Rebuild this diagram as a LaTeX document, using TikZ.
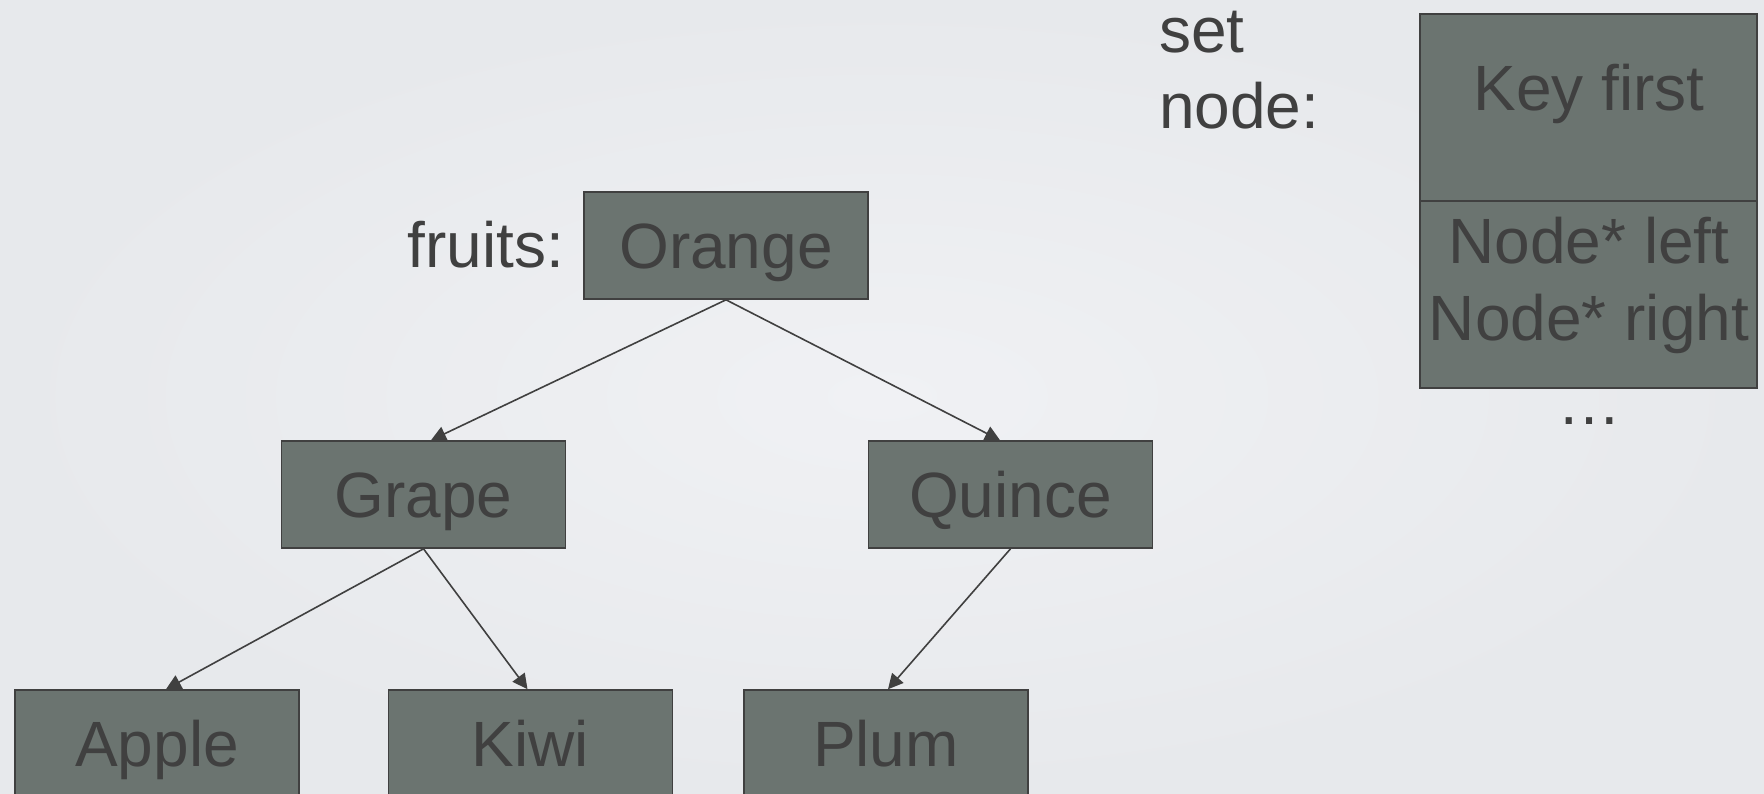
\documentclass[tikz,border=0pt]{standalone}
\usepackage{fontspec}
\setmainfont{Liberation Sans}
\usetikzlibrary{arrows.meta}
\definecolor{bgin}{RGB}{240,241,244}
\definecolor{bgout}{RGB}{231,233,236}
\definecolor{boxfill}{RGB}{107,116,112}
\definecolor{ink}{RGB}{64,64,64}
\tikzset{
  fruitbox/.style={draw=ink, line width=1.6pt, fill=boxfill, text=ink,
    minimum width=284pt, minimum height=107pt, inner sep=0pt,
    text height=46pt, text depth=0pt},
  keypart/.style={draw=ink, line width=1.6pt, fill=boxfill,
    minimum width=337pt, inner sep=0pt},
  lbl/.style={text=ink, inner sep=0pt},
  conn/.style={draw=ink, line width=1.6pt,
    -{Triangle[length=15pt,width=15pt]}},
}
\begin{document}
\begin{tikzpicture}[x=1pt,y=-1pt,font=\fontsize{64}{77}\selectfont]
\shade[inner color=bgin, outer color=bgout] (0,0) rectangle (1764,793);
\useasboundingbox (0,0) rectangle (1764,793);
% tree
\node[fruitbox] (orange) at (726,245.5) {Orange};
\node[fruitbox] (grape) at (423.5,494.5) {Grape};
\node[fruitbox] (quince) at (1010.5,494.5) {Quince};
\node[fruitbox] (apple) at (157,743.5) {Apple};
\node[fruitbox] (kiwi) at (530.5,743.5) {Kiwi};
\node[fruitbox] (plum) at (886,743.5) {Plum};
\node[lbl, anchor=base east] (fruits) at (564,267) {fruits:};
\draw[conn] (orange.south) -- ([xshift=7.5pt]grape.north);
\draw[conn] (orange.south) -- ([xshift=-10.5pt]quince.north);
\draw[conn] (grape.south) -- ([xshift=9pt]apple.north);
\draw[conn] (grape.south) -- ([xshift=-3pt]kiwi.north);
\draw[conn] (quince.south) -- ([xshift=2pt]plum.north);
% key box
\node[keypart, minimum height=187pt] (top) at (1588.5,107.5) {};
\node[keypart, minimum height=187pt] (bottom) at (1588.5,294.5) {};
\node[lbl, anchor=base] (keyfirst) at (1589,110) {Key first};
\node[lbl, anchor=base] (nleft) at (1589,263) {Node* left};
\node[lbl, anchor=base] (nright) at (1589,340) {Node* right};
\node[lbl, anchor=base] (dots) at (1589,424) {…};
\node[lbl, anchor=base west] (setlbl) at (1159,52) {set};
\node[lbl, anchor=base west] (nodelbl) at (1159,128) {node:};
\end{tikzpicture}
\end{document}
